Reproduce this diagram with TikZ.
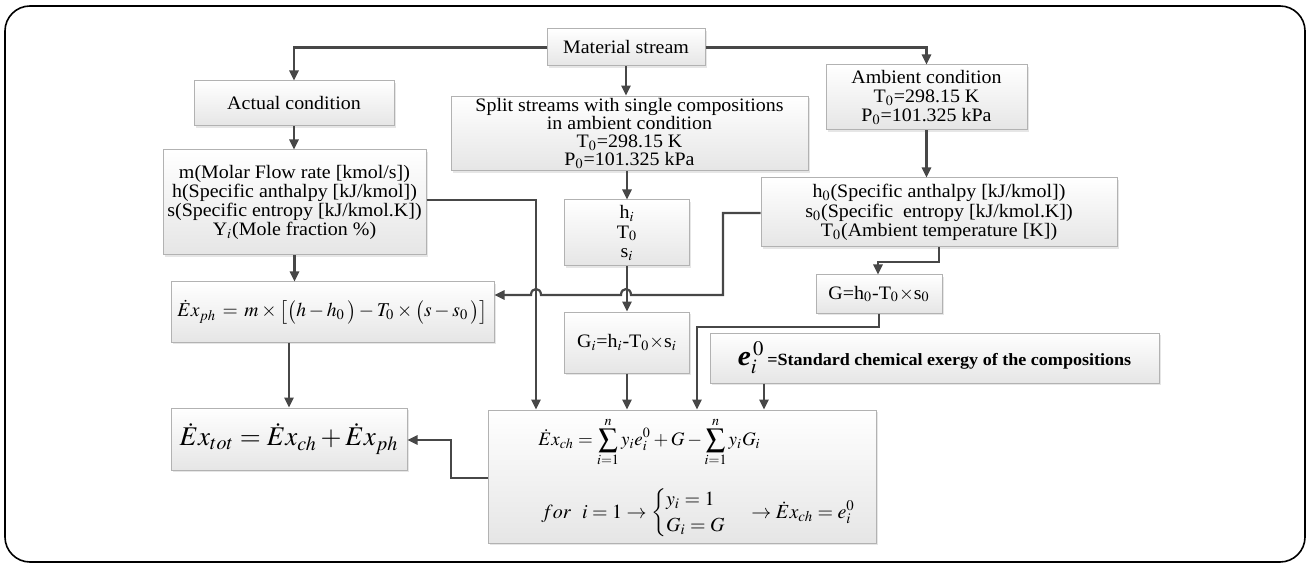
\documentclass[tikz,border=0pt]{standalone}
\usepackage{amsmath}
\usepackage{mathptmx}
\usepackage[no-math]{fontspec}
\setmainfont{Liberation Serif}[FakeStretch=1.05]
\usetikzlibrary{arrows.meta,shadows,calc}
\tikzset{
  box/.style={draw=black!30, line width=0.5pt, top color=white, bottom color=black!10,
    drop shadow={shadow xshift=0.8pt, shadow yshift=-0.8pt, opacity=0.2},
    inner sep=1pt, align=center, font=\fontsize{9.5}{9.6}\selectfont},
  conn/.style={draw=black!72, line width=1.1pt, line join=miter},
  arr/.style={conn, -{Triangle[length=5pt,width=4.6pt]}},
  frame/.style={draw=black, line width=0.8pt, rounded corners=12.5pt}
}
\begin{document}
\begin{tikzpicture}[x=0.5pt, y=-0.5pt]
\useasboundingbox (0,0) rectangle (1309,566);
\draw[frame] (5,6) rectangle (1305,562);

% nodes
\node[box, minimum width=79pt, minimum height=18.5pt] (mat) at (626,47.5) {Material stream};
\node[box, minimum width=100pt, minimum height=22.5pt] (act) at (294,103.5) {Actual condition};
\node[box, minimum width=178.5pt, minimum height=36.5pt, font=\fontsize{9.5}{9.1}\selectfont] (split) at (629.5,133.5)
  {Split streams with single compositions\\ in ambient condition\\ T$_0$=298.15 K\\ P$_0$=101.325 kPa};
\node[box, minimum width=100.5pt, minimum height=32.5pt] (amb) at (926.5,97.5)
  {Ambient condition\\ T$_0$=298.15 K\\ P$_0$=101.325 kPa};
\node[box, minimum width=131.5pt, minimum height=52.5pt] (m) at (294.5,202.5)
  {m(Molar Flow rate [kmol/s])\\ h(Specific anthalpy [kJ/kmol])\\ s(Specific entropy [kJ/kmol.K])\\ Y$_i$(Mole fraction \%)};
\node[box, minimum width=62.5pt, minimum height=33pt] (hi) at (627,233)
  {h$_i$\\ T$_0$\\ s$_i$};
\node[box, minimum width=178pt, minimum height=34.5pt] (h0) at (939,212.5)
  {h$_0$(Specific anthalpy [kJ/kmol])\\ s$_0$(Specific\ \ entropy [kJ/kmol.K])\\ T$_0$(Ambient temperature [K])};
\node[box, minimum width=63pt, minimum height=19pt] (G) at (879,294)
  {G=h$_0$-T$_0$$\times$s$_0$};
\node[box, minimum width=161.5pt, minimum height=30pt, font=\fontsize{9.8}{12}\selectfont] (exph) at (332.5,312)
  {$\dot{E}x_{ph}\,=\,m\times\big[\big(h-h_0\,\big)-T_0\times\big(s-s_0\,\big)\big]$};
\node[box, minimum width=62.5pt, minimum height=30.5pt] (Gi) at (627,342.5)
  {G$_i$=h$_i$-T$_0$$\times$s$_i$};
\node[box, minimum width=224.5pt, minimum height=25pt, font=\fontsize{8.6}{10}\selectfont\bfseries] (e) at (934.5,358)
  {{\fontsize{14}{14}\selectfont$\textbf{\textit{e}}_i^{\,0}$}\,=Standard chemical exergy of the compositions};
\node[box, minimum width=118pt, minimum height=31pt, font=\fontsize{13.5}{16}\selectfont] (extot) at (289,439)
  {$\dot{E}x_{tot}=\dot{E}x_{ch}+\dot{E}x_{ph}$};
\node[box, minimum width=194pt, minimum height=66.5pt] (exch) at (682,476.5) {};
\node[anchor=west, inner sep=0pt, font=\fontsize{9.5}{11}\selectfont] (exchA) at (538,442)
  {$\displaystyle \dot{E}x_{ch}=\sum_{i=1}^{n} y_i e_i^0+G-\sum_{i=1}^{n} y_i G_i$};
\node[anchor=west, inner sep=0pt, font=\fontsize{10}{11}\selectfont] (exchB) at (541,513)
  {$for\;\;\, i=1\rightarrow\begin{cases} y_i=1\\ G_i=G\end{cases}\rightarrow\dot{E}x_{ch}=e_i^0$};

% helper coordinates
\coordinate (mx) at (536,200);
\coordinate (hx) at (723,295);
\coordinate (gy) at (878,262);
\coordinate (gx) at (697,327);
\coordinate (ex) at (764,0);
\coordinate (tx) at (451,478);
\coordinate (ty) at (451,440);

% connectors
\draw[arr] (mat.west) -| (act.north);
\draw[arr] (mat.east) -| (amb.north);
\draw[arr] (mat.south) -- (mat.south |- split.north);
\draw[arr] (act.south) -- (act.south |- m.north);
\draw[arr] (m.south) -- (m.south |- exph.north);
\draw[arr] (split.south -| hi.north) -- (hi.north);
\draw[arr] (m.east |- mx) -- (mx) -- (mx |- exch.north);
\draw[arr] (hi.south) -- (Gi.north);
\draw[arr] (Gi.south) -- (Gi.south |- exch.north);
\draw[arr] (amb.south) -- (amb.south |- h0.north);
\draw[arr] (h0.south) -- (h0.south |- gy) -- (gy) -- (gy |- G.north);
\draw[arr] (G.south) -- (G.south |- gx) -- (gx) -- (gx |- exch.north);
\draw[arr] (ex |- e.south) -- (ex |- exch.north);
\draw[arr] (h0.west |- 723,213) -- (723,213) -- (hx) -- (631,295)
  .. controls (631,287) and (621,287) .. (621,295) -- (541,295)
  .. controls (541,287) and (531,287) .. (531,295) -- (exph.east |- hx);
\draw[arr] (extot.north |- exph.south) -- (extot.north);
\draw[arr] (exch.west |- tx) -- (tx) -- (ty) -- (extot.east |- ty);
\end{tikzpicture}
\end{document}
